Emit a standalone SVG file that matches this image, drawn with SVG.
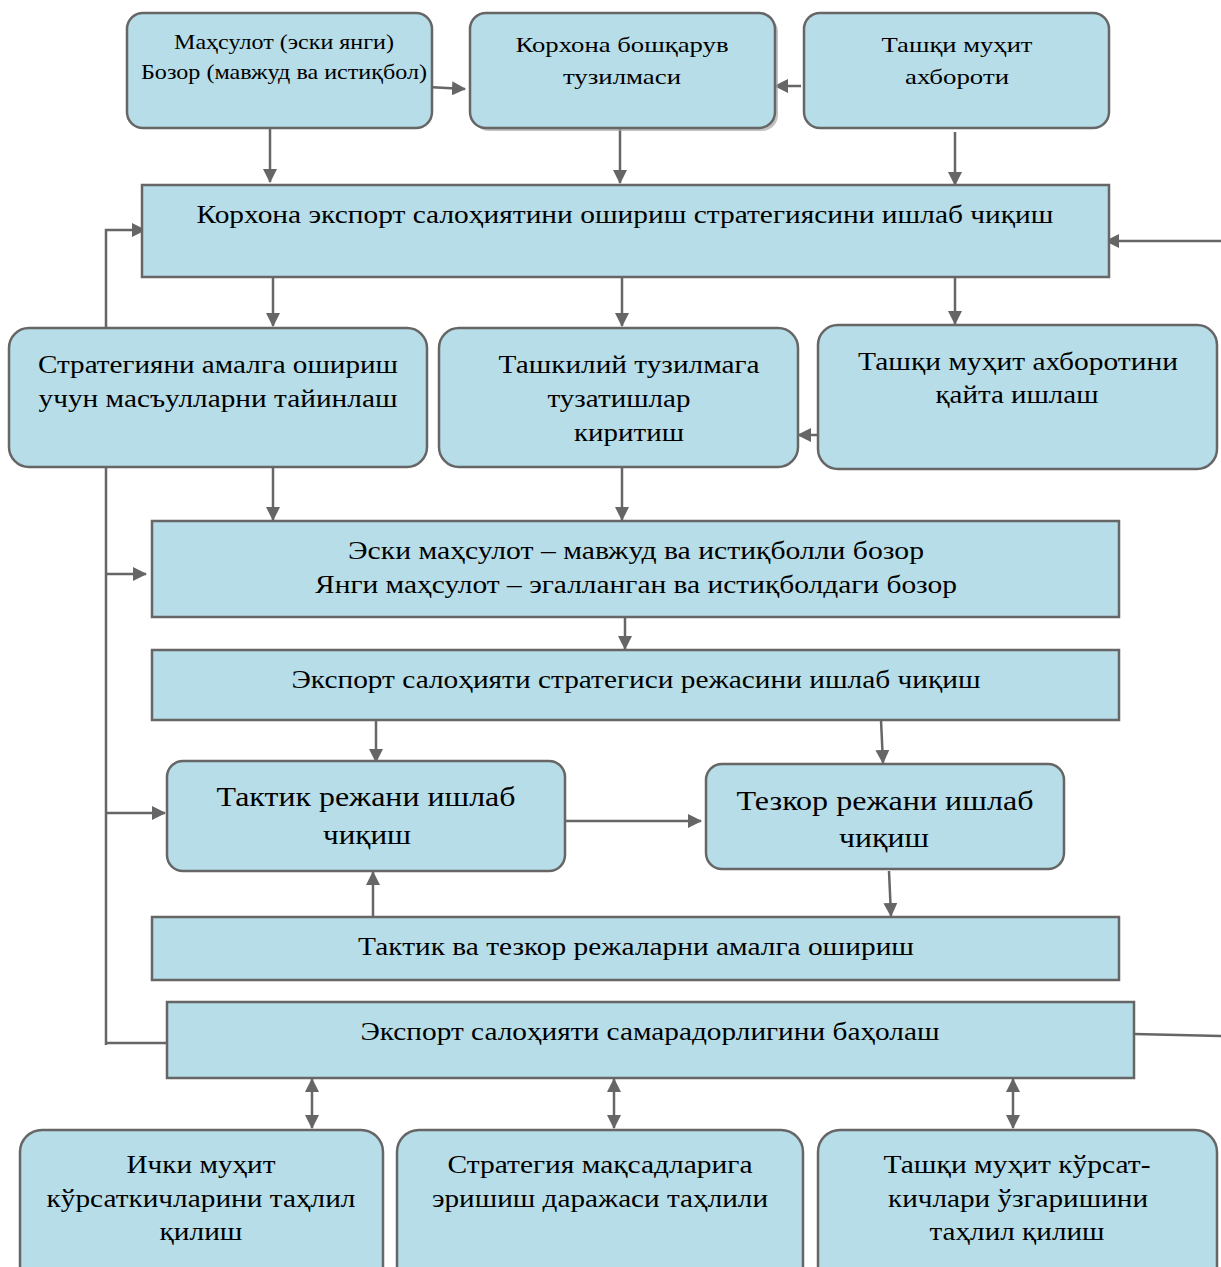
<svg xmlns="http://www.w3.org/2000/svg" width="1221" height="1267" viewBox="0 0 1221 1267">
<style>
.n{fill:#b7dde8;stroke:#666;stroke-width:2.5}
.t{font-family:"Liberation Serif","Times New Roman",serif;fill:#000;text-anchor:middle}
.c{fill:none;stroke:#666;stroke-width:2.5}
.a{marker-end:url(#ah)}
.b{marker-start:url(#as);marker-end:url(#ah)}
</style>
<defs>
<marker id="ah" markerUnits="userSpaceOnUse" markerWidth="14" markerHeight="14" viewBox="0 0 14 14" refX="13" refY="7" orient="auto"><path d="M0,0 L14,7 L0,14 Z" fill="#666"/></marker>
<marker id="as" markerUnits="userSpaceOnUse" markerWidth="14" markerHeight="14" viewBox="0 0 14 14" refX="1" refY="7" orient="auto"><path d="M14,0 L0,7 L14,14 Z" fill="#666"/></marker>
</defs>
<rect width="1221" height="1267" fill="#fff"/>

<g id="connectors">
<path class="c a" d="M428,87 L465,89"/>
<path class="c a" d="M801,86 L775,86"/>
<path class="c a" d="M270,125 L270,182"/>
<path class="c a" d="M620,128 L620,183"/>
<path class="c a" d="M955,132 L955,185"/>
<path class="c a" d="M1221,241 L1106,241"/>
<path class="c a" d="M273,277 L273,326"/>
<path class="c a" d="M622,277 L622,326"/>
<path class="c a" d="M955,277 L955,324"/>
<path class="c a" d="M818,435 L798,435"/>
<path class="c a" d="M106,328 L106,230 L145,230"/>
<path class="c" d="M106,467 L106,1045"/>
<path class="c" d="M106,1043 L167,1043"/>
<path class="c a" d="M106,574 L146,574"/>
<path class="c a" d="M106,813 L165,813"/>
<path class="c a" d="M273,467 L273,520"/>
<path class="c a" d="M622,467 L622,520"/>
<path class="c a" d="M625,617 L625,649"/>
<path class="c a" d="M376,720 L376,762"/>
<path class="c a" d="M881,720 L883,763"/>
<path class="c a" d="M565,821 L701,821"/>
<path class="c a" d="M889,871 L891,916"/>
<path class="c a" d="M373,917 L373,872"/>
<path class="c" d="M1134,1034 L1221,1036"/>
<path class="c b" d="M312,1079 L312,1128"/>
<path class="c b" d="M614,1079 L614,1128"/>
<path class="c b" d="M1013,1079 L1013,1128"/>
</g>

<g id="n-product">
<rect class="n" x="127" y="13" width="305" height="115" rx="16"/>
<text class="t" font-size="21"><tspan x="284" y="49" textLength="220" lengthAdjust="spacingAndGlyphs">Маҳсулот (эски янги)</tspan><tspan x="284" y="79" textLength="286" lengthAdjust="spacingAndGlyphs">Бозор (мавжуд ва истиқбол)</tspan></text>
</g>
<g id="n-management">
<rect x="473" y="16" width="305" height="115" rx="16" fill="#aaa" opacity="0.7"/>
<rect class="n" x="470" y="13" width="305" height="115" rx="16"/>
<text class="t" font-size="22"><tspan x="622" y="52" textLength="213" lengthAdjust="spacingAndGlyphs">Корхона бошқарув</tspan><tspan x="622" y="84" textLength="118" lengthAdjust="spacingAndGlyphs">тузилмаси</tspan></text>
</g>
<g id="n-extinfo">
<rect class="n" x="804" y="13" width="305" height="115" rx="16"/>
<text class="t" font-size="22"><tspan x="957" y="52" textLength="151" lengthAdjust="spacingAndGlyphs">Ташқи муҳит</tspan><tspan x="957" y="84" textLength="104" lengthAdjust="spacingAndGlyphs">ахбороти</tspan></text>
</g>
<g id="n-strategy">
<rect class="n" x="142" y="185" width="967" height="92"/>
<text class="t" font-size="26"><tspan x="625" y="223" textLength="857" lengthAdjust="spacingAndGlyphs">Корхона экспорт салоҳиятини ошириш стратегиясини ишлаб чиқиш</tspan></text>
</g>
<g id="n-responsible">
<rect class="n" x="9" y="328" width="418" height="139" rx="20"/>
<text class="t" font-size="26"><tspan x="218" y="373" textLength="360" lengthAdjust="spacingAndGlyphs">Стратегияни амалга ошириш</tspan><tspan x="218" y="407" textLength="359" lengthAdjust="spacingAndGlyphs">учун масъулларни тайинлаш</tspan></text>
</g>
<g id="n-orgchanges">
<rect class="n" x="439" y="328" width="359" height="139" rx="20"/>
<text class="t" font-size="26"><tspan x="629" y="373" textLength="261" lengthAdjust="spacingAndGlyphs">Ташкилий тузилмага</tspan><tspan x="619" y="407" textLength="143" lengthAdjust="spacingAndGlyphs">тузатишлар</tspan><tspan x="629" y="441" textLength="110" lengthAdjust="spacingAndGlyphs">киритиш</tspan></text>
</g>
<g id="n-reprocess">
<rect class="n" x="818" y="325" width="399" height="144" rx="20"/>
<text class="t" font-size="26"><tspan x="1018" y="370" textLength="320" lengthAdjust="spacingAndGlyphs">Ташқи муҳит ахборотини</tspan><tspan x="1017" y="403" textLength="163" lengthAdjust="spacingAndGlyphs">қайта ишлаш</tspan></text>
</g>
<g id="n-markets">
<rect class="n" x="152" y="521" width="967" height="96"/>
<text class="t" font-size="26"><tspan x="636" y="559" textLength="576" lengthAdjust="spacingAndGlyphs">Эски маҳсулот – мавжуд ва истиқболли бозор</tspan><tspan x="636" y="593" textLength="642" lengthAdjust="spacingAndGlyphs">Янги маҳсулот – эгалланган ва истиқболдаги бозор</tspan></text>
</g>
<g id="n-plan">
<rect class="n" x="152" y="650" width="967" height="70"/>
<text class="t" font-size="26"><tspan x="636" y="688" textLength="689" lengthAdjust="spacingAndGlyphs">Экспорт салоҳияти стратегиси режасини ишлаб чиқиш</tspan></text>
</g>
<g id="n-tactic">
<rect class="n" x="167" y="761" width="398" height="110" rx="16"/>
<text class="t" font-size="28"><tspan x="366" y="806" textLength="299" lengthAdjust="spacingAndGlyphs">Тактик режани ишлаб</tspan><tspan x="367" y="844" textLength="88" lengthAdjust="spacingAndGlyphs">чиқиш</tspan></text>
</g>
<g id="n-operative">
<rect class="n" x="706" y="764" width="358" height="105" rx="16"/>
<text class="t" font-size="28"><tspan x="885" y="810" textLength="297" lengthAdjust="spacingAndGlyphs">Тезкор режани ишлаб</tspan><tspan x="884" y="847" textLength="90" lengthAdjust="spacingAndGlyphs">чиқиш</tspan></text>
</g>
<g id="n-implement">
<rect class="n" x="152" y="917" width="967" height="63"/>
<text class="t" font-size="26"><tspan x="636" y="955" textLength="556" lengthAdjust="spacingAndGlyphs">Тактик ва тезкор режаларни амалга ошириш</tspan></text>
</g>
<g id="n-evaluate">
<rect class="n" x="167" y="1002" width="967" height="76"/>
<text class="t" font-size="26"><tspan x="650" y="1040" textLength="579" lengthAdjust="spacingAndGlyphs">Экспорт салоҳияти самарадорлигини баҳолаш</tspan></text>
</g>
<g id="n-internal">
<rect class="n" x="20" y="1130" width="363" height="160" rx="22"/>
<text class="t" font-size="25"><tspan x="201" y="1173" textLength="149" lengthAdjust="spacingAndGlyphs">Ички муҳит</tspan><tspan x="201" y="1207" textLength="309" lengthAdjust="spacingAndGlyphs">кўрсаткичларини таҳлил</tspan><tspan x="201" y="1240" textLength="83" lengthAdjust="spacingAndGlyphs">қилиш</tspan></text>
</g>
<g id="n-goals">
<rect class="n" x="397" y="1130" width="406" height="160" rx="22"/>
<text class="t" font-size="25"><tspan x="600" y="1173" textLength="305" lengthAdjust="spacingAndGlyphs">Стратегия мақсадларига</tspan><tspan x="600" y="1207" textLength="336" lengthAdjust="spacingAndGlyphs">эришиш даражаси таҳлили</tspan></text>
</g>
<g id="n-external">
<rect class="n" x="818" y="1130" width="399" height="160" rx="22"/>
<text class="t" font-size="25"><tspan x="1017" y="1173" textLength="267" lengthAdjust="spacingAndGlyphs">Ташқи муҳит кўрсат-</tspan><tspan x="1018" y="1207" textLength="260" lengthAdjust="spacingAndGlyphs">кичлари ўзгаришини</tspan><tspan x="1017" y="1240" textLength="175" lengthAdjust="spacingAndGlyphs">таҳлил қилиш</tspan></text>
</g>
</svg>
